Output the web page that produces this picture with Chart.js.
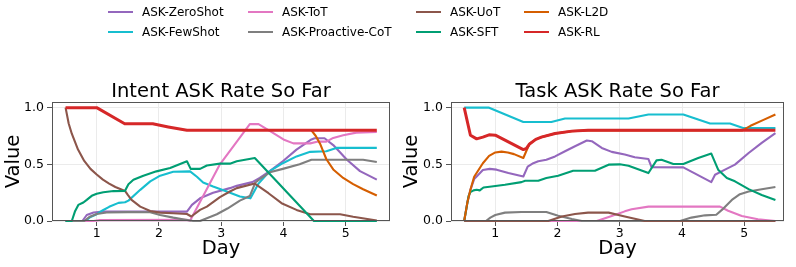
<!DOCTYPE html>
<html><head><meta charset="utf-8">
<script src="https://cdn.jsdelivr.net/npm/chart.js@4/dist/chart.umd.min.js"></script>
<style>
html,body{margin:0;padding:0;background:#fff;}
#wrap{position:relative;width:796px;height:267px;overflow:hidden;font-family:'DejaVu Sans',sans-serif;}
canvas{position:absolute;top:0;}
#c1{left:0}
#c2{left:398px}
.lg{position:absolute;display:flex;align-items:center;height:20px;font-size:12px;color:#000;white-space:nowrap;font-family:'DejaVu Sans',sans-serif;}
.lg i{display:inline-block;width:25px;height:2px;margin-right:9px;}
</style></head><body>
<div id="wrap">
<canvas id="c1" width="398" height="267"></canvas>
<canvas id="c2" width="398" height="267"></canvas>
<div id="legend"></div>
</div>
<script>
// ---------- data ----------
const SERIES_NAMES = ['ASK-ZeroShot','ASK-FewShot','ASK-ToT','ASK-Proactive-CoT','ASK-UoT','ASK-SFT','ASK-L2D','ASK-RL'];
const SERIES_COLORS = ['#9467bd','#17becf','#e377c2','#7f7f7f','#8c564b','#009e73','#d55e00','#d62728'];
const X_TICKS = [1,2,3,4,5];
const Y_TICKS = [0,0.5,1.0];
const CHART_TITLES = ['Intent ASK Rate So Far','Task ASK Rate So Far'];
const X_LABEL = 'Day';
const Y_LABEL = 'Value';

// Intent ASK Rate So Far: [day, value]
const intentZeroShot = [[0.5,0],[0.77,0],[0.84,0.053],[0.95,0.075],[1.1,0.083],[2.45,0.083],[2.53,0.142],[2.66,0.2],[2.87,0.25],[3.14,0.29],[3.25,0.31],[3.5,0.343],[3.62,0.38],[3.78,0.44],[3.99,0.527],[4.21,0.63],[4.45,0.72],[4.5,0.73],[4.66,0.73],[4.8,0.67],[5.02,0.54],[5.23,0.44],[5.5,0.365]];
const intentFewShot = [[0.5,0],[0.82,0],[0.9,0.035],[1.0,0.06],[1.1,0.095],[1.2,0.125],[1.35,0.16],[1.455,0.165],[1.51,0.18],[1.70,0.275],[1.86,0.35],[2.02,0.40],[2.23,0.435],[2.5,0.438],[2.61,0.39],[2.71,0.34],[2.87,0.305],[3.09,0.26],[3.30,0.216],[3.47,0.2],[3.6,0.33],[3.78,0.44],[3.99,0.51],[4.21,0.57],[4.43,0.61],[4.69,0.615],[4.85,0.645],[5.5,0.645]];
const intentToT = [[0.5,0],[0.95,0],[1.05,0.008],[2.45,0.01],[2.5,0.003],[2.98,0.5],[3.46,0.855],[3.6,0.855],[3.78,0.795],[4.0,0.72],[4.16,0.685],[4.43,0.685],[4.54,0.70],[4.69,0.70],[4.8,0.733],[4.96,0.757],[5.17,0.78],[5.5,0.785]];
const intentProactiveCoT = [[0.5,0],[0.8,0],[0.89,0.038],[1.0,0.062],[1.16,0.075],[1.5,0.078],[1.86,0.077],[2.02,0.053],[2.23,0.03],[2.45,0.009],[2.55,0],[2.66,0],[2.77,0.024],[2.93,0.06],[3.1,0.11],[3.3,0.18],[3.46,0.22],[3.55,0.34],[3.62,0.37],[3.78,0.43],[3.99,0.46],[4.26,0.50],[4.45,0.54],[5.28,0.54],[5.5,0.52]];
const intentUoT = [[0.5,1.0],[0.55,0.86],[0.6,0.77],[0.7,0.63],[0.8,0.53],[0.9,0.46],[1.0,0.41],[1.1,0.365],[1.2,0.33],[1.3,0.30],[1.455,0.265],[1.5,0.23],[1.56,0.186],[1.7,0.127],[1.86,0.089],[2.02,0.074],[2.23,0.068],[2.45,0.062],[2.52,0.04],[2.66,0.098],[2.77,0.127],[2.98,0.21],[3.14,0.26],[3.25,0.29],[3.54,0.33],[3.76,0.245],[3.97,0.157],[4.21,0.098],[4.43,0.06],[4.91,0.06],[5.12,0.038],[5.5,0.005]];
const intentSFT = [[0.5,0],[0.6,0],[0.65,0.083],[0.705,0.142],[0.786,0.163],[0.84,0.186],[0.92,0.222],[1.0,0.24],[1.107,0.254],[1.27,0.264],[1.455,0.266],[1.51,0.325],[1.59,0.364],[1.75,0.40],[1.96,0.438],[2.18,0.467],[2.45,0.527],[2.51,0.46],[2.66,0.46],[2.77,0.49],[2.98,0.506],[3.14,0.506],[3.25,0.527],[3.54,0.556],[4.49,0.0],[5.5,0]];
const intentL2D = [[4.45,0.80],[4.52,0.75],[4.59,0.68],[4.69,0.545],[4.8,0.455],[4.96,0.38],[5.12,0.325],[5.28,0.28],[5.5,0.225]];
const intentRL = [[0.5,1.0],[1.0,1.0],[1.45,0.858],[1.9,0.858],[2.15,0.83],[2.45,0.80],[5.5,0.80]];

// Task ASK Rate So Far: [day, value]
const taskZeroShot = [[0.5,0],[0.55,0.16],[0.6,0.275],[0.66,0.37],[0.7,0.393],[0.8,0.45],[0.91,0.46],[1.02,0.453],[1.21,0.423],[1.45,0.393],[1.52,0.48],[1.61,0.51],[1.69,0.527],[1.82,0.54],[1.96,0.57],[2.12,0.615],[2.28,0.66],[2.47,0.71],[2.55,0.704],[2.71,0.645],[2.87,0.61],[3.08,0.586],[3.24,0.562],[3.46,0.547],[3.51,0.475],[4.02,0.473],[4.47,0.343],[4.53,0.408],[4.69,0.453],[4.85,0.497],[5.07,0.60],[5.28,0.69],[5.5,0.775]];
const taskFewShot = [[0.5,1.0],[0.9,1.0],[1.45,0.873],[1.9,0.873],[2.12,0.905],[3.14,0.905],[3.46,0.94],[4.02,0.94],[4.45,0.86],[4.77,0.86],[4.98,0.82],[5.5,0.82]];
const taskToT = [[0.5,0],[2.63,0],[2.87,0.044],[3.08,0.085],[3.19,0.104],[3.46,0.127],[4.61,0.127],[4.74,0.09],[4.96,0.044],[5.22,0.015],[5.5,0]];
const taskProactiveCoT = [[0.5,0],[0.85,0],[0.92,0.03],[1.0,0.053],[1.155,0.074],[1.42,0.08],[1.82,0.08],[2.01,0.047],[2.23,0.018],[2.39,0],[3.97,0],[4.15,0.03],[4.37,0.05],[4.55,0.055],[4.64,0.098],[4.8,0.186],[4.93,0.237],[5.07,0.26],[5.28,0.28],[5.5,0.30]];
const taskUoT = [[0.5,0],[1.85,0],[2.07,0.04],[2.28,0.062],[2.49,0.074],[2.82,0.074],[3.08,0.04],[3.40,0],[5.5,0]];
const taskSFT = [[0.5,0],[0.57,0.22],[0.6,0.255],[0.65,0.27],[0.7,0.275],[0.75,0.27],[0.81,0.296],[0.94,0.305],[1.155,0.32],[1.42,0.343],[1.48,0.355],[1.69,0.355],[1.82,0.379],[2.01,0.40],[2.25,0.444],[2.6,0.444],[2.82,0.497],[3.0,0.50],[3.14,0.488],[3.46,0.423],[3.59,0.535],[3.67,0.54],[3.86,0.503],[4.02,0.503],[4.26,0.556],[4.47,0.595],[4.58,0.453],[4.72,0.379],[4.85,0.35],[5.07,0.281],[5.28,0.23],[5.5,0.185]];
const taskL2D = [[0.5,0],[0.55,0.16],[0.6,0.275],[0.66,0.39],[0.73,0.45],[0.8,0.51],[0.9,0.575],[1.0,0.605],[1.1,0.612],[1.2,0.605],[1.3,0.59],[1.45,0.556],[1.5,0.62],[1.55,0.68],[1.65,0.72],[1.74,0.74],[1.96,0.772],[2.23,0.793],[2.49,0.80],[4.97,0.80],[5.1,0.84],[5.3,0.89],[5.5,0.94]];
const taskRL = [[0.5,1.0],[0.6,0.757],[0.7,0.725],[0.8,0.74],[0.9,0.76],[1.0,0.757],[1.45,0.63],[1.5,0.64],[1.55,0.68],[1.65,0.72],[1.74,0.74],[1.96,0.772],[2.23,0.793],[2.49,0.80],[5.5,0.80]];

const INTENT_SERIES = [intentZeroShot,intentFewShot,intentToT,intentProactiveCoT,intentUoT,intentSFT,intentL2D,intentRL];
const TASK_SERIES = [taskZeroShot,taskFewShot,taskToT,taskProactiveCoT,taskUoT,taskSFT,taskL2D,taskRL];

// ---------- rendering ----------
const FONT = "'DejaVu Sans', sans-serif";
const SPINE = '#555555';
const GRID = '#ebebeb';

// legend (matplotlib-style, 4 columns, column-major)
(function(){
  const colX = [108, 248, 416, 524];
  const rowTop = [2.3, 22.3];
  const lg = document.getElementById('legend');
  SERIES_NAMES.forEach((name, i) => {
    const d = document.createElement('div');
    d.className = 'lg';
    d.style.left = colX[Math.floor(i/2)] + 'px';
    d.style.top = rowTop[i%2] + 'px';
    const mark = document.createElement('i');
    mark.style.background = SERIES_COLORS[i];
    const t = document.createElement('span');
    t.textContent = name;
    d.appendChild(mark); d.appendChild(t);
    lg.appendChild(d);
  });
})();

const framePlugin = {
  id: 'frame',
  afterDatasetsDraw(chart) {
    const {ctx, chartArea: a} = chart;
    ctx.save();
    ctx.strokeStyle = SPINE;
    ctx.lineWidth = 1;
    const l = Math.round(a.left) + 0.5, r = Math.round(a.right) - 0.5;
    const t = Math.round(a.top) + 0.5, b = Math.round(a.bottom) - 0.5;
    ctx.strokeRect(l, t, r - l, b - t);
    ctx.restore();
  }
};

function makeChart(id, title, series, xMin, xMax, yAxisWidth, padRight) {
  return new Chart(document.getElementById(id), {
    type: 'line',
    data: {
      datasets: series.map((pts, i) => ({
        label: SERIES_NAMES[i],
        data: pts.map(([x, y]) => ({x, y})),
        borderColor: SERIES_COLORS[i],
        backgroundColor: SERIES_COLORS[i],
        borderWidth: i === 7 ? 3 : 2.1,
        pointRadius: 0,
        tension: 0,
        fill: false,
        order: 7 - i,
        clip: 3,
        borderJoinStyle: 'round'
      }))
    },
    options: {
      responsive: false,
      animation: false,
      devicePixelRatio: 1,
      layout: {padding: {left: 0, right: padRight, top: 0, bottom: 0}},
      plugins: {
        legend: {display: false},
        tooltip: {enabled: false},
        title: {
          display: true, text: title, fullSize: false, color: '#000',
          font: {family: FONT, size: 19.5, weight: 'normal', lineHeight: 1},
          padding: {top: 82.5, bottom: 0}
        }
      },
      scales: {
        x: {
          type: 'linear', min: xMin, max: xMax,
          afterBuildTicks: s => { s.ticks = X_TICKS.map(v => ({value: v})); },
          afterFit: s => { s.height = 46; },
          grid: {color: GRID, tickColor: SPINE, tickLength: 5, lineWidth: 1},
          border: {display: false},
          ticks: {color: '#000', font: {family: FONT, size: 12.5, lineHeight: 1}, padding: 1, maxRotation: 0, autoSkip: false, callback: v => String(v)},
          title: {display: true, text: X_LABEL, color: '#000', font: {family: FONT, size: 19.5, lineHeight: 1}, padding: {top: 0, bottom: 8}}
        },
        y: {
          min: 0, max: 1.05,
          afterBuildTicks: s => { s.ticks = Y_TICKS.map(v => ({value: v})); },
          afterFit: s => { s.width = yAxisWidth; },
          grid: {color: GRID, tickColor: SPINE, tickLength: 5, lineWidth: 1},
          border: {display: false},
          ticks: {color: '#000', font: {family: FONT, size: 12.5, lineHeight: 1}, padding: 3, callback: v => Number(v).toFixed(1)},
          title: {display: true, text: Y_LABEL, color: '#000', font: {family: FONT, size: 19.5, lineHeight: 1}, padding: {top: 4.5, bottom: 0}}
        }
      }
    },
    plugins: [framePlugin]
  });
}

makeChart('c1', CHART_TITLES[0], INTENT_SERIES, 0.282, 5.712, 52, 8);
makeChart('c2', CHART_TITLES[1], TASK_SERIES, 0.288, 5.638, 53, 12);
</script>
</body></html>
